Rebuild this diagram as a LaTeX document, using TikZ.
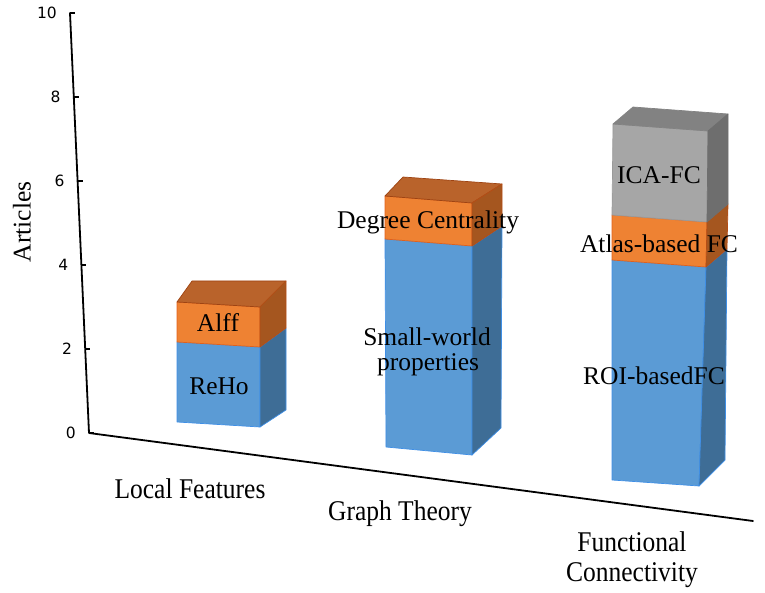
\documentclass[tikz,border=0pt]{standalone}
\usepackage{fontspec}
\setmainfont{Liberation Serif}
\newfontfamily\ticksans{DejaVu Sans}
\definecolor{bfront}{HTML}{5B9BD5}
\definecolor{bside}{HTML}{3E6D96}
\definecolor{bedge}{HTML}{3F8FE6}
\definecolor{ofront}{HTML}{EE8233}
\definecolor{otop}{HTML}{B9632B}
\definecolor{oside}{HTML}{A5561F}
\definecolor{oedge}{HTML}{E2601A}
\definecolor{gfront}{HTML}{A6A6A6}
\definecolor{gtop}{HTML}{828282}
\definecolor{gside}{HTML}{6E6E6E}
\definecolor{gedge}{HTML}{9A9A9A}
\tikzset{
  bf/.style={fill=bfront, draw=bedge, line width=0.7pt, line join=round},
  bs/.style={fill=bside, draw=bedge, line width=0.7pt, line join=round},
  of/.style={fill=ofront, draw=oedge, line width=0.7pt, line join=round},
  ot/.style={fill=otop, draw=oedge!70!black, line width=0.7pt, line join=round},
  os/.style={fill=oside, draw=oedge!80!black, line width=0.7pt, line join=round},
  gf/.style={fill=gfront, draw=gedge, line width=0.7pt, line join=round},
  gt/.style={fill=gtop, draw=gtop, line width=0.7pt, line join=round},
  gs/.style={fill=gside, draw=gside, line width=0.7pt, line join=round},
  barlbl/.style={font=\fontsize{25.5}{28}\selectfont, inner sep=0pt, text=black, align=center},
  catlbl/.style={font=\fontsize{25.5}{33}\selectfont, inner sep=0pt, text=black, align=center, yscale=1.12},
  ticklbl/.style={font=\ticksans\fontsize{15.5}{17}\selectfont, inner sep=0pt, anchor=east},
  axisline/.style={line width=1.8pt, black, line cap=round, line join=round},
  tickmark/.style={line width=1.4pt, black}
}
\begin{document}
\begin{tikzpicture}[x=1pt, y=-1pt]
\useasboundingbox (0,0) rectangle (765,593);

% ---------- axes ----------
\coordinate (ytop) at (70,13);
\coordinate (origin) at (89,433);
\coordinate (xend) at (753,521);
\draw[axisline] (ytop) -- (origin) -- (xend);
\foreach \v/\name in {0/t0,2/t2,4/t4,6/t6,8/t8,10/t10}{
  \pgfmathsetmacro{\yy}{433-42*\v}
  \pgfmathsetmacro{\xx}{89-19*(433-\yy)/420}
  \coordinate (\name) at (\xx,\yy);
  \draw[tickmark] (\name) -- ++(5,0);
  \node[ticklbl] (\name l) at ([xshift=-13pt]\name) {\v};
}

% ---------- bar 1 : Local Features ----------
\draw[bf] (177,342) -- (260,347) -- (260,427) -- (177,422) -- cycle;
\draw[of] (177,302) -- (260,307) -- (260,347) -- (177,342) -- cycle;
\draw[ot] (177,302) -- (260,307) -- (286,281) -- (192,281) -- cycle;
\draw[bs] (260,347) -- (286,328) -- (286,410) -- (260,427) -- cycle;
\draw[os] (260,307) -- (286,281) -- (286,328) -- (260,347) -- cycle;

% ---------- bar 2 : Graph Theory ----------
\draw[bf] (385,239) -- (472,246) -- (472,455) -- (386,447) -- cycle;
\draw[of] (385,196) -- (472,203) -- (472,246) -- (385,239) -- cycle;
\draw[ot] (385,196) -- (472,203) -- (502,184) -- (403,177) -- cycle;
\draw[bs] (472,246) -- (502,226) -- (501,428) -- (472,455) -- cycle;
\draw[os] (472,203) -- (502,184) -- (502,226) -- (472,246) -- cycle;

% ---------- bar 3 : Functional Connectivity ----------
\draw[bf] (612,260) -- (706,267) -- (699,486) -- (612,480) -- cycle;
\draw[of] (612,215) -- (707,222) -- (706,267) -- (612,260) -- cycle;
\draw[gf] (613,124) -- (708,131) -- (707,222) -- (612,215) -- cycle;
\draw[gt] (613,124) -- (708,131) -- (728,114) -- (633,107) -- cycle;
\draw[bs] (706,267) -- (727,249) -- (725,460) -- (699,486) -- cycle;
\draw[os] (707,222) -- (728,204) -- (727,249) -- (706,267) -- cycle;
\draw[gs] (708,131) -- (728,114) -- (728,204) -- (707,222) -- cycle;

% ---------- bar labels ----------
\node[barlbl] (alff) at (218,323) {Alff};
\node[barlbl] (reho) at (219,386) {ReHo};
\node[barlbl] (dc) at (428,222) {Degree Centrality};
\node[barlbl] (sw) at (427,337) {Small-world};
\node[barlbl] (prop) at (428,365) {properties};
\node[barlbl] (ica) at (659,175) {ICA-FC};
\node[barlbl] (atlas) at (659,244) {Atlas-based FC};
\node[barlbl] (roi) at (654,376) {ROI-basedFC};

% ---------- axis titles ----------
\node[font=\fontsize{25.5}{28}\selectfont, inner sep=0pt, rotate=90] (articles) at (22,222) {Articles};
\node[catlbl] (local) at (190,489) {Local Features};
\node[catlbl] (graph) at (400,514) {Graph Theory};
\node[catlbl] (func) at (632,542) {Functional};
\node[catlbl] (conn) at (632,575) {Connectivity};
\end{tikzpicture}
\end{document}
